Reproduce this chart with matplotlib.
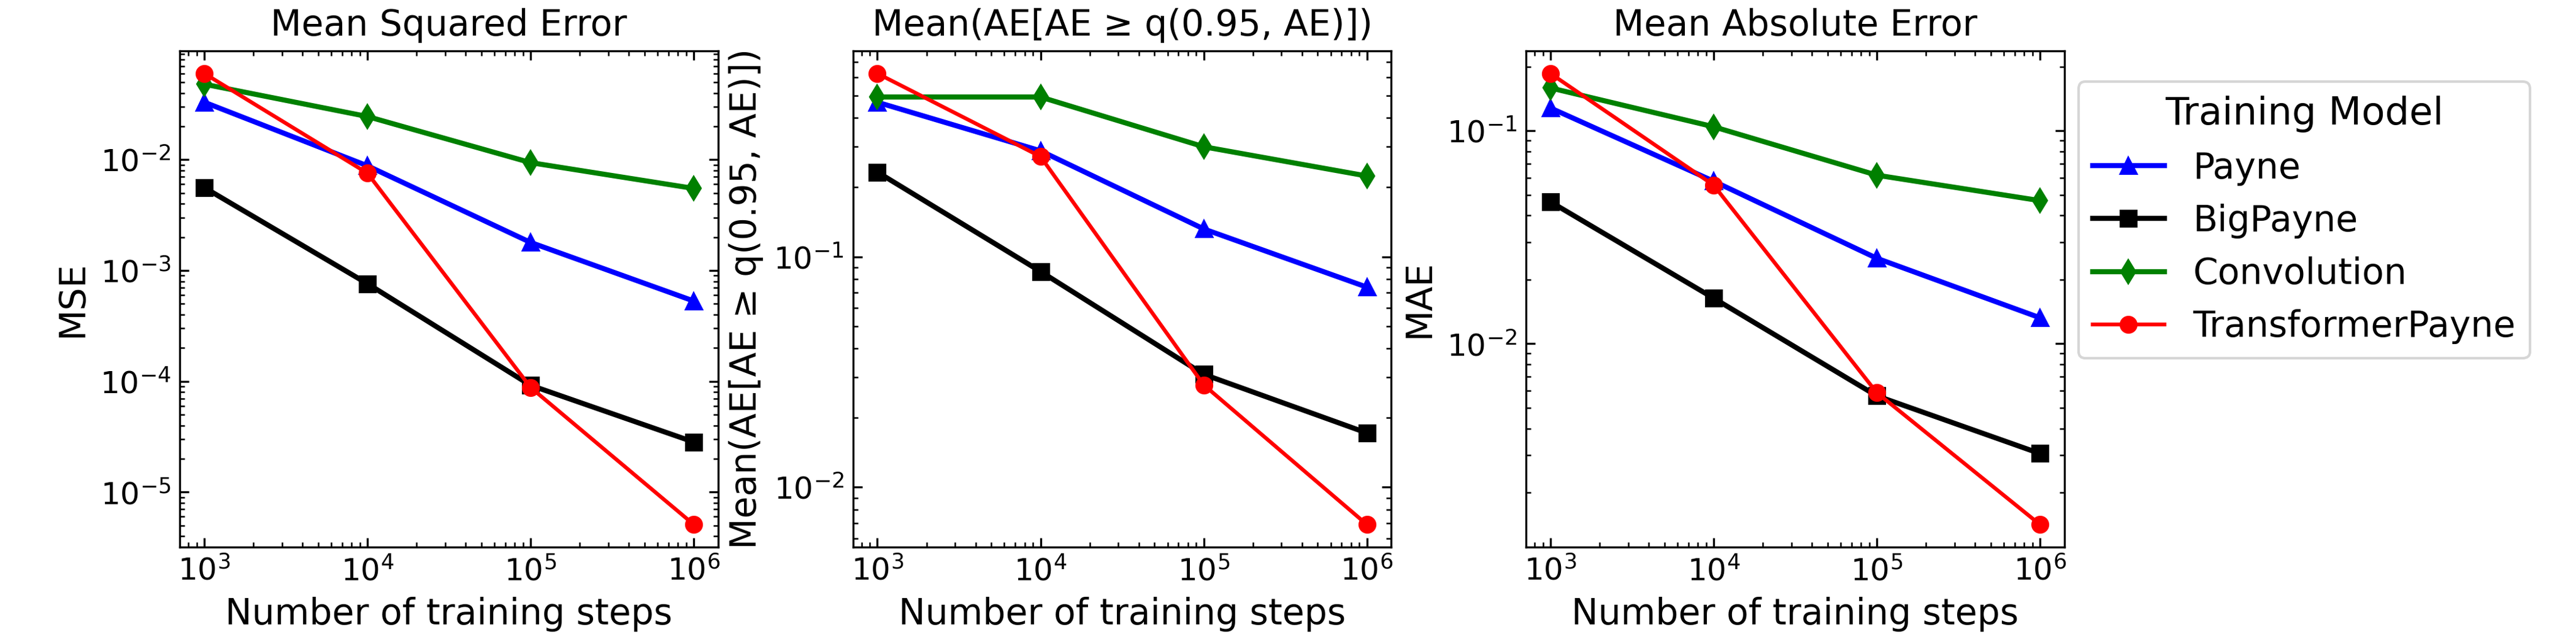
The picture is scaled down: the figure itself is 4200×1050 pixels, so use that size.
import matplotlib
matplotlib.use("Agg")
import matplotlib.pyplot as plt

steps = [1e3, 1e4, 1e5, 1e6]
models = ["Payne", "BigPayne", "Convolution", "TransformerPayne"]
colors = ["blue", "black", "green", "red"]
markers = ["^", "s", "d", "o"]
widths = [2.0, 2.0, 2.0, 1.5]

# MSE per model
mse_payne = [0.033, 0.0088, 1.79e-3, 5.3e-4]
mse_bigpayne = [5.6e-3, 7.6e-4, 9.2e-5, 2.83e-5]
mse_conv = [0.048, 0.0245, 9.4e-3, 5.5e-3]
mse_transformer = [0.060, 7.55e-3, 8.8e-5, 5.1e-6]

# mean of AE above the 95th percentile
tail_payne = [0.468, 0.288, 0.132, 0.0738]
tail_bigpayne = [0.233, 0.0863, 0.0309, 0.0172]
tail_conv = [0.493, 0.493, 0.30, 0.224]
tail_transformer = [0.624, 0.272, 0.0278, 0.00689]

# MAE per model
mae_payne = [0.128, 0.058, 0.0252, 0.01324]
mae_bigpayne = [0.0464, 0.01637, 0.00569, 0.00305]
mae_conv = [0.159, 0.1045, 0.0619, 0.047]
mae_transformer = [0.186, 0.0556, 0.00589, 0.001415]

panels = [
    ("Mean Squared Error", "MSE", [mse_payne, mse_bigpayne, mse_conv, mse_transformer]),
    ("Mean(AE[AE ≥ q(0.95, AE)])", "Mean(AE[AE ≥ q(0.95, AE)])",
     [tail_payne, tail_bigpayne, tail_conv, tail_transformer]),
    ("Mean Absolute Error", "MAE", [mae_payne, mae_bigpayne, mae_conv, mae_transformer]),
]

fig, axes = plt.subplots(1, 3, figsize=(14, 3.5), dpi=300)
fig.subplots_adjust(left=0.0698, right=0.8014, bottom=0.1505, top=0.921, wspace=0.25)

for ax, (title, ylabel, series) in zip(axes, panels):
    for name, vals, c, m, lw in zip(models, series, colors, markers, widths):
        ax.plot(steps, vals, color=c, marker=m, lw=lw, label=name)
    ax.set_xscale("log")
    ax.set_yscale("log")
    ax.set_title(title, fontsize=14)
    ax.set_ylabel(ylabel, fontsize=14)
    ax.set_xlabel("Number of training steps", fontsize=14)
    ax.tick_params(which="both", direction="in", top=True, right=True, labelsize=12)

axes[2].legend(title="Training Model", fontsize=14, title_fontsize=15,
               loc="upper left", bbox_to_anchor=(1.026, 0.938), borderaxespad=0)

fig.savefig("out.png", dpi=300)
